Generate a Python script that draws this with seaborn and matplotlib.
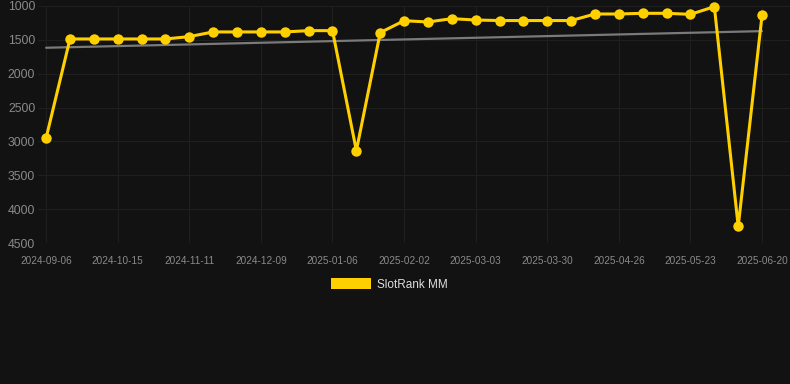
import numpy as np
import pandas as pd
import matplotlib
matplotlib.use("Agg")
import matplotlib.pyplot as plt
import seaborn as sns
from matplotlib.patches import Patch

# rank values, one per weekly-ish sample (lower is better, axis inverted)
ranks = [2950, 1487, 1487, 1487, 1487, 1487, 1452, 1383, 1383, 1383, 1383,
         1364, 1364, 3137, 1393, 1217, 1236, 1187, 1207, 1215, 1215, 1215,
         1215, 1118, 1118, 1108, 1108, 1123, 1010, 4255, 1133]
tick_labels = ["2024-09-06", "2024-10-15", "2024-11-11", "2024-12-09",
               "2025-01-06", "2025-02-02", "2025-03-03", "2025-03-30",
               "2025-04-26", "2025-05-23", "2025-06-20"]
series_name = "SlotRank MM"

bg = "#121212"
gold = "#FFD000"

df = pd.DataFrame({"idx": np.arange(len(ranks)), "rank": ranks})

sns.set_style("darkgrid", {"axes.facecolor": bg, "figure.facecolor": bg,
                           "grid.color": "#1f1f1f", "axes.edgecolor": bg})
plt.rcParams["font.family"] = ["Liberation Sans", "DejaVu Sans"]

fig = plt.figure(figsize=(7.9, 3.84), dpi=100)
ax = fig.add_axes([38 / 790, 1 - 243 / 384, 1 - 38 / 790, 237 / 384])

# trend line (linear fit over the whole series)
sns.regplot(data=df, x="idx", y="rank", ax=ax, scatter=False, ci=None,
            truncate=True, line_kws={"color": "#7a7a7a", "lw": 1.6, "zorder": 2})

sns.lineplot(data=df, x="idx", y="rank", ax=ax, color=gold, lw=2.2,
             marker="o", markersize=7.5, markeredgewidth=0,
             solid_joinstyle="miter", zorder=3, clip_on=False)

ax.set_xlim(-0.34, 31.17)
ax.set_ylim(4500, 1000)
ax.set_yticks(np.arange(1000, 4501, 500))
ax.set_xticks(np.arange(0, len(ranks), 3))
ax.set_xticklabels(tick_labels)
ax.tick_params(axis="x", labelsize=7.2, colors="#8a8a8a", length=0, pad=9)
ax.tick_params(axis="y", labelsize=8.8, colors="#8a8a8a", length=0, pad=2)
ax.set_xlabel("")
ax.set_ylabel("")
ax.grid(True, color="#1f1f1f", lw=0.8)
for s in ax.spines.values():
    s.set_visible(False)

handles = [Patch(facecolor=gold, edgecolor="none", label=series_name)]
fig.legend(handles=handles, loc="center", bbox_to_anchor=(389 / 790, 1 - 284.5 / 384),
           frameon=False, fontsize=8.5, labelcolor="#dddddd",
           handlelength=3.4, handleheight=1.0, handletextpad=0.5)

fig.savefig("out.png", dpi=100, facecolor=bg)
